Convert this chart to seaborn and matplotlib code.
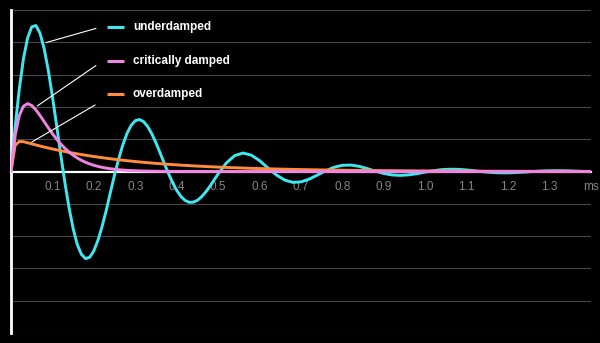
import matplotlib
matplotlib.use("Agg")
import matplotlib.pyplot as plt
import seaborn as sns
import pandas as pd

# time samples (ms)
time_ms = [0.00, 0.01, 0.02, 0.03, 0.04, 0.05, 0.06, 0.07, 0.08, 0.09,
           0.10, 0.11, 0.12, 0.13, 0.14, 0.15, 0.16, 0.17, 0.18, 0.19,
           0.20, 0.21, 0.22, 0.23, 0.24, 0.25, 0.26, 0.27, 0.28, 0.29,
           0.30, 0.31, 0.32, 0.33, 0.34, 0.35, 0.36, 0.37, 0.38, 0.39,
           0.40, 0.41, 0.42, 0.43, 0.44, 0.45, 0.46, 0.47, 0.48, 0.49,
           0.50, 0.52, 0.54, 0.56, 0.58, 0.60, 0.62, 0.64, 0.66, 0.68,
           0.70, 0.72, 0.74, 0.76, 0.78, 0.80, 0.82, 0.84, 0.86, 0.88,
           0.90, 0.92, 0.94, 0.96, 0.98, 1.00, 1.02, 1.04, 1.06, 1.08,
           1.10, 1.12, 1.14, 1.16, 1.18, 1.20, 1.22, 1.24, 1.26, 1.28,
           1.30, 1.32, 1.34, 1.36, 1.38, 1.40]

underdamped = [0.000, 1.373, 2.555, 3.487, 4.132, 4.476, 4.520, 4.284, 3.805, 3.134,
               2.320, 1.437, 0.529, -0.337, -1.113, -1.765, -2.264, -2.564, -2.698, -2.655,
               -2.456, -2.126, -1.697, -1.200, -0.639, -0.105, 0.393, 0.828, 1.178, 1.429,
               1.573, 1.609, 1.545, 1.391, 1.165, 0.886, 0.574, 0.253, -0.059, -0.343,
               -0.583, -0.770, -0.893, -0.955, -0.950, -0.890, -0.783, -0.636, -0.463, -0.266,
               -0.075, 0.265, 0.492, 0.572, 0.507, 0.336, 0.113, -0.102, -0.261, -0.336,
               -0.322, -0.235, -0.108, 0.025, 0.132, 0.192, 0.199, 0.160, 0.089, 0.008,
               -0.062, -0.107, -0.121, -0.104, -0.067, -0.019, 0.026, 0.058, 0.071, 0.067,
               0.048, 0.020, -0.008, -0.030, -0.041, -0.042, -0.032, -0.017, 0.000, 0.014,
               0.023, 0.025, 0.022, 0.013, 0.003, -0.006]

critically_damped = [0.000, 1.111, 1.731, 2.022, 2.100, 2.044, 1.910, 1.736, 1.545, 1.354,
                     1.171, 1.003, 0.853, 0.720, 0.603, 0.503, 0.418, 0.346, 0.285, 0.235,
                     0.192, 0.157, 0.128, 0.104, 0.085, 0.069, 0.056, 0.045, 0.036, 0.029,
                     0.024, 0.019, 0.015, 0.012, 0.010, 0.008, 0.006, 0.005, 0.004, 0.003,
                     0.003, 0.002, 0.002, 0.001, 0.001, 0.001, 0.001, 0.001, 0.000, 0.000,
                     0.000, 0.000, 0.000, 0.000, 0.000, 0.000, 0.000, 0.000, 0.000, 0.000,
                     0.000, 0.000, 0.000, 0.000, 0.000, 0.000, 0.000, 0.000, 0.000, 0.000,
                     0.000, 0.000, 0.000, 0.000, 0.000, 0.000, 0.000, 0.000, 0.000, 0.000,
                     0.000, 0.000, 0.000, 0.000, 0.000, 0.000, 0.000, 0.000, 0.000, 0.000,
                     0.000, 0.000, 0.000, 0.000, 0.000, 0.000]

overdamped = [0.000, 0.810, 0.930, 0.922, 0.890, 0.856, 0.822, 0.789, 0.757, 0.727,
              0.698, 0.670, 0.643, 0.618, 0.593, 0.569, 0.546, 0.525, 0.504, 0.484,
              0.464, 0.446, 0.428, 0.411, 0.394, 0.378, 0.363, 0.349, 0.335, 0.321,
              0.309, 0.296, 0.284, 0.273, 0.262, 0.252, 0.242, 0.232, 0.223, 0.214,
              0.205, 0.197, 0.189, 0.182, 0.174, 0.167, 0.161, 0.154, 0.148, 0.142,
              0.136, 0.126, 0.116, 0.107, 0.098, 0.091, 0.084, 0.077, 0.071, 0.065,
              0.060, 0.056, 0.051, 0.047, 0.043, 0.040, 0.037, 0.034, 0.031, 0.029,
              0.027, 0.025, 0.023, 0.021, 0.019, 0.018, 0.016, 0.015, 0.014, 0.013,
              0.012, 0.011, 0.010, 0.009, 0.009, 0.008, 0.007, 0.007, 0.006, 0.006,
              0.005, 0.005, 0.004, 0.004, 0.004, 0.003]

series_names = ["underdamped", "critically damped", "overdamped"]
series_colors = ["#3EE8F0", "#F383E2", "#FF8C3A"]
x_ticks = [0.1, 0.2, 0.3, 0.4, 0.5, 0.6, 0.7, 0.8, 0.9, 1.0, 1.1, 1.2, 1.3, 1.4]
x_tick_labels = ["0.1", "0.2", "0.3", "0.4", "0.5", "0.6", "0.7", "0.8", "0.9",
                 "1.0", "1.1", "1.2", "1.3", "ms"]
y_ticks = [-5, -4, -3, -2, -1, 0, 1, 2, 3, 4, 5]

frames = []
for name, vals in zip(series_names, [underdamped, critically_damped, overdamped]):
    frames.append(pd.DataFrame({"t": time_ms, "v": vals, "series": name}))
df = pd.concat(frames, ignore_index=True)

sns.set_style("dark")
plt.rcParams["font.family"] = ["Liberation Sans", "DejaVu Sans"]

fig = plt.figure(figsize=(6.0, 3.43), dpi=100, facecolor="black")
ax = fig.add_axes([11 / 600, 10 / 343, 580 / 600, 323 / 343])
ax.set_facecolor("black")

# grid lines
for yv in y_ticks:
    if yv != 0:
        ax.axhline(yv, color="#474747", lw=0.8, zorder=0)

palette = dict(zip(series_names, series_colors))
draw_order = ["underdamped", "overdamped", "critically damped"]
for name in draw_order:
    sub = df[df["series"] == name]
    sns.lineplot(data=sub, x="t", y="v", color=palette[name], lw=2.1,
                 ax=ax, legend=False, zorder=3, sort=False)

ax.set_xlim(0, 1.4)
ax.set_ylim(-5, 5)
ax.set_xlabel("")
ax.set_ylabel("")

# axes styling
for s in ["top", "right"]:
    ax.spines[s].set_visible(False)
ax.spines["left"].set_color("white")
ax.spines["left"].set_linewidth(2.0)
ax.spines["bottom"].set_position(("data", 0))
ax.spines["bottom"].set_color("white")
ax.spines["bottom"].set_linewidth(1.6)
ax.spines["bottom"].set_zorder(2)

ax.set_yticks(y_ticks)
ax.set_yticklabels([])
ax.tick_params(axis="y", direction="out", length=3.5, width=1.0, colors="white")
ax.set_xticks(x_ticks)
ax.set_xticklabels(x_tick_labels)
ax.tick_params(axis="x", direction="out", length=2.0, width=1.0, color="white",
               labelcolor="#858585", labelsize=8.5, pad=5)
ax.grid(False)

# legend entries with leader lines
legend_y = [4.47, 3.41, 2.41]
leaders = [((0.0845, 3.99), (0.205, 4.43)),
           ((0.0635, 2.03), (0.205, 3.28)),
           ((0.050, 0.91), (0.203, 2.06))]
for name, ly, (p0, p1) in zip(series_names, legend_y, leaders):
    ax.plot([0.232, 0.273], [ly, ly], color=palette[name], lw=2.2,
            solid_capstyle="butt", zorder=5)
    ax.text(0.294, ly, name, color="white", fontsize=8.5, fontweight="bold",
            va="center", ha="left", zorder=5)
    ax.plot([p0[0], p1[0]], [p0[1], p1[1]], color="white", lw=0.8, zorder=4)

fig.savefig("out.png", dpi=100, facecolor="black")
